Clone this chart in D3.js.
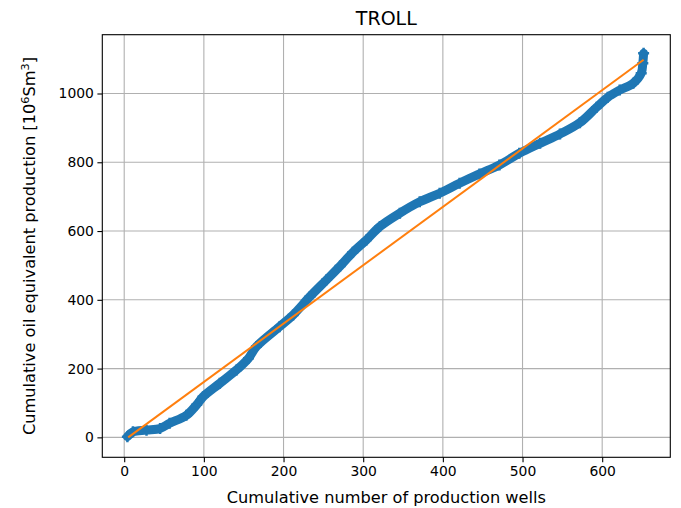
<!DOCTYPE html>
<html>
<head>
<meta charset="utf-8">
<script src="https://cdn.jsdelivr.net/npm/d3@7"></script>
<style>
  html, body { margin: 0; padding: 0; background: #fff; }
  svg { display: block; font-family: "DejaVu Sans", sans-serif; }
  .tick text { font-size: 13.9px; fill: #000; }
</style>
</head>
<body>
<svg id="chart" width="681" height="508"></svg>
<script>
// Cumulative wells vs cumulative oil-equivalent production (10^6 Sm3), TROLL field
const wells      = [4, 11, 28, 45, 57, 78, 91, 99, 120, 141, 156, 166, 195, 212, 233, 254, 271, 287, 304, 321, 346, 371, 396, 421, 446, 471, 496, 522, 547, 572, 593, 607, 622, 639, 649, 651, 652];
const production = [2, 16, 21, 26, 41, 64, 95, 118, 157, 196, 230, 264, 322, 356, 409, 458, 498, 538, 574, 613, 652, 685, 710, 739, 766, 792, 826, 855, 882, 915, 960, 989, 1010, 1030, 1059, 1088, 1117];

// Straight-line trend from first to last well
const trendWells = [5, 652];
const trendProd  = [0, 1098];

const xTicks = [0, 100, 200, 300, 400, 500, 600];
const yTicks = [0, 200, 400, 600, 800, 1000];

const svg = d3.select("#chart");
const box = { left: 102.3, right: 670.3, top: 34.7, bottom: 457.3 };

const x = d3.scaleLinear().domain([-27.5, 685.5]).range([box.left, box.right]);
const y = d3.scaleLinear().domain([-58, 1171]).range([box.bottom, box.top]);

const points = wells.map((w, i) => [w, production[i]]);
const trend = trendWells.map((w, i) => [w, trendProd[i]]);

// grid
const grid = svg.append("g");
grid.selectAll(".gx").data(xTicks).join("line")
  .attr("x1", d => x(d)).attr("x2", d => x(d))
  .attr("y1", box.top).attr("y2", box.bottom)
  .attr("stroke", "#b0b0b0").attr("stroke-width", 1.1);
grid.selectAll(".gy").data(yTicks).join("line")
  .attr("y1", d => y(d)).attr("y2", d => y(d))
  .attr("x1", box.left).attr("x2", box.right)
  .attr("stroke", "#b0b0b0").attr("stroke-width", 1.1);

// production curve drawn as a dense band of "+" markers
svg.append("path").datum(points)
  .attr("d", d3.line().x(d => x(d[0])).y(d => y(d[1])).curve(d3.curveCatmullRom.alpha(0.5)))
  .attr("fill", "none").attr("stroke", "#1f77b4")
  .attr("stroke-width", 9).attr("stroke-linejoin", "round").attr("stroke-linecap", "round");
const s = 5.5;
svg.append("g").selectAll("path").data(points).join("path")
  .attr("transform", d => `translate(${x(d[0])},${y(d[1])})`)
  .attr("d", `M${-s},0H${s}M0,${-s}V${s}`)
  .attr("stroke", "#1f77b4").attr("stroke-width", 2.5).attr("fill", "none");

// trend line
svg.append("path").datum(trend)
  .attr("d", d3.line().x(d => x(d[0])).y(d => y(d[1])))
  .attr("fill", "none").attr("stroke", "#ff7f0e").attr("stroke-width", 2);

// axes
const xAxis = d3.axisBottom(x).tickValues(xTicks).tickSize(4.9).tickPadding(3.5).tickFormat(d3.format("d"));
const yAxis = d3.axisLeft(y).tickValues(yTicks).tickSize(4.9).tickPadding(3.5).tickFormat(d3.format("d"));

const gx = svg.append("g").attr("transform", `translate(0,${box.bottom})`).call(xAxis);
const gy = svg.append("g").attr("transform", `translate(${box.left},0)`).call(yAxis);
[gx, gy].forEach(g => {
  g.select(".domain").remove();
  g.selectAll(".tick line").attr("stroke", "#000").attr("stroke-width", 1.1);
  g.selectAll(".tick text").attr("font-family", "DejaVu Sans").attr("font-size", 13.9);
});

// frame
svg.append("rect")
  .attr("x", box.left).attr("y", box.top)
  .attr("width", box.right - box.left).attr("height", box.bottom - box.top)
  .attr("fill", "none").attr("stroke", "#000").attr("stroke-width", 1.1);

// title and labels
svg.append("text").attr("x", (box.left + box.right) / 2).attr("y", 25)
  .attr("text-anchor", "middle").attr("font-size", 19).text("TROLL");

svg.append("text").attr("x", (box.left + box.right) / 2).attr("y", 503)
  .attr("text-anchor", "middle").attr("font-size", 16.2)
  .text("Cumulative number of production wells");

const yl = svg.append("text")
  .attr("transform", `translate(35,${(box.top + box.bottom) / 2}) rotate(-90)`)
  .attr("text-anchor", "middle").attr("font-size", 16.2);
yl.append("tspan").text("Cumulative oil equivalent production [10");
yl.append("tspan").attr("font-size", 11.3).attr("dy", -6).text("6");
yl.append("tspan").attr("dy", 6).text("Sm");
yl.append("tspan").attr("font-size", 11.3).attr("dy", -6).text("3");
yl.append("tspan").attr("dy", 6).text("]");
</script>
</body>
</html>
